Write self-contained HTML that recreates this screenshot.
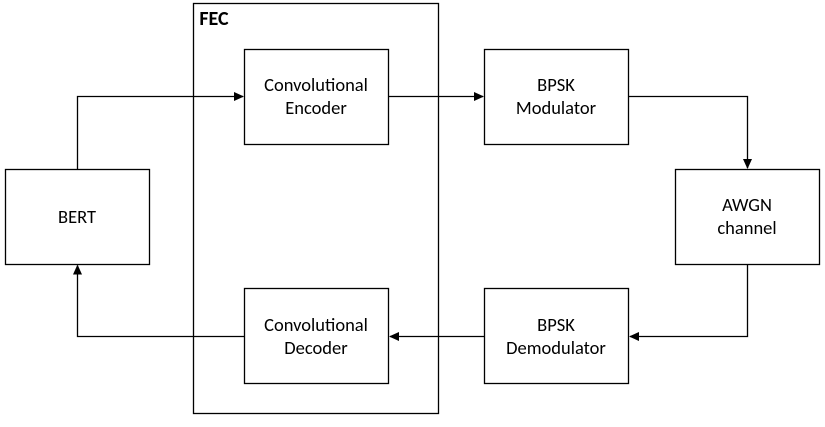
<!DOCTYPE html>
<html><head><style>html,body{margin:0;padding:0;background:#fff;}</style></head>
<body>
<svg width="825" height="422" xmlns="http://www.w3.org/2000/svg" font-family="Calibri, 'Liberation Sans', sans-serif" font-size="18.5" fill="none">
<defs><marker id="a" markerWidth="10" markerHeight="10" refX="9" refY="5" orient="auto" markerUnits="userSpaceOnUse"><path d="M0,0.5 L10,5 L0,9.5 z" fill="#000"/></marker></defs>
<g stroke="#000" stroke-width="1.3">
<rect x="193.5" y="3.5" width="245" height="410"/>
<rect x="5.5" y="169.5" width="144" height="95"/>
<rect x="244.5" y="49.5" width="144" height="95"/>
<rect x="244.5" y="288.5" width="144" height="95"/>
<rect x="484.5" y="49.5" width="144" height="95"/>
<rect x="484.5" y="288.5" width="144" height="95"/>
<rect x="675.5" y="169.5" width="144" height="95"/>
<polyline points="77.5,169 77.5,96.5 243,96.5" marker-end="url(#a)"/>
<polyline points="389,96.5 483,96.5" marker-end="url(#a)"/>
<polyline points="629,96.5 747.5,96.5 747.5,168" marker-end="url(#a)"/>
<polyline points="747.5,265 747.5,336.5 630,336.5" marker-end="url(#a)"/>
<polyline points="484,336.5 390,336.5" marker-end="url(#a)"/>
<polyline points="244,336.5 77.5,336.5 77.5,265.5" marker-end="url(#a)"/>
</g>
<g fill="#000" text-anchor="middle">
<text x="214" y="25" style="font-weight:bold;font-size:20px">FEC</text>
<text x="77" y="223">BERT</text>
<text x="316" y="91">Convolutional</text><text x="316" y="114">Encoder</text>
<text x="316" y="331">Convolutional</text><text x="316" y="354">Decoder</text>
<text x="556" y="91">BPSK</text><text x="556" y="114">Modulator</text>
<text x="556" y="331">BPSK</text><text x="556" y="354">Demodulator</text>
<text x="747" y="211">AWGN</text><text x="747" y="234">channel</text>
</g>
</svg>
</body></html>
